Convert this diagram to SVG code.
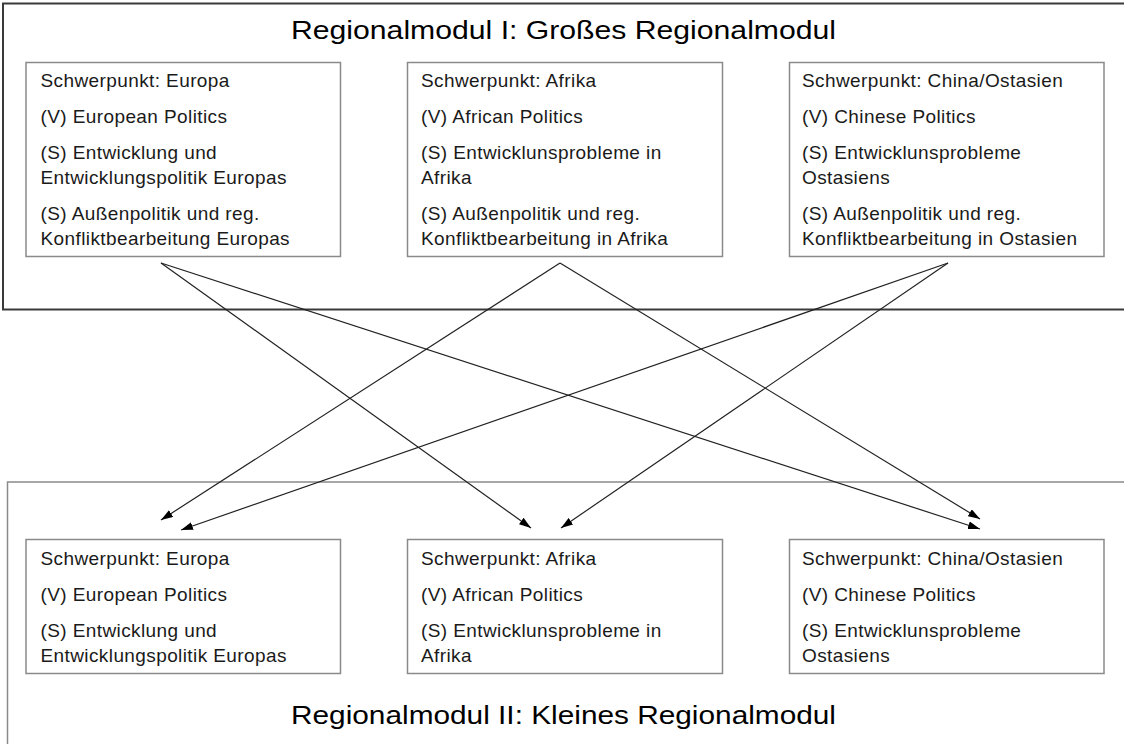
<svg xmlns="http://www.w3.org/2000/svg" width="1124" height="744" viewBox="0 0 1124 744">
<style>
.outer1{fill:none;stroke:#3a3a3a;stroke-width:2}
.outer2{fill:none;stroke:#8a8a8a;stroke-width:1.5}
.box{fill:#fff;stroke:#8a8a8a;stroke-width:1.5}
.t{font-family:"Liberation Sans",Arial,sans-serif;font-size:19px;letter-spacing:0.4px;fill:#1a1a1a}
.title{font-family:"Liberation Sans",Arial,sans-serif;font-size:25px;fill:#000}
.conn{stroke:#222;stroke-width:1.2;fill:none}
</style>
<defs>
<marker id="ah" viewBox="0 0 12 8" refX="12" refY="4" markerWidth="12" markerHeight="8" markerUnits="userSpaceOnUse" orient="auto">
<path d="M0,0 L12,4 L0,8 z" fill="#000"/>
</marker>
</defs>
<rect fill="#fff" x="0" y="0" width="1124" height="744"/>
<g id="grosses-regionalmodul">
<rect class="outer1" x="3" y="3.5" width="1140" height="306"/>
<text class="title" x="291" y="39" textLength="545" lengthAdjust="spacingAndGlyphs">Regionalmodul I: Großes Regionalmodul</text>
</g>
<g id="kleines-regionalmodul">
<rect class="outer2" x="7.5" y="482" width="1140" height="300"/>
<text class="title" x="291" y="724" textLength="545" lengthAdjust="spacingAndGlyphs">Regionalmodul II: Kleines Regionalmodul</text>
</g>
<g id="g-europa">
<rect class="box" x="26" y="62.5" width="314.5" height="194"/>
<text class="t" x="40.5" y="87">Schwerpunkt: Europa</text>
<text class="t" x="40.5" y="123">(V) European Politics</text>
<text class="t" x="40.5" y="159">(S) Entwicklung und</text>
<text class="t" x="40.5" y="184">Entwicklungspolitik Europas</text>
<text class="t" x="40.5" y="220">(S) Außenpolitik und reg.</text>
<text class="t" x="40.5" y="245">Konfliktbearbeitung Europas</text>
</g>
<g id="g-afrika">
<rect class="box" x="407.5" y="62.5" width="315" height="194"/>
<text class="t" x="421" y="87">Schwerpunkt: Afrika</text>
<text class="t" x="421" y="123">(V) African Politics</text>
<text class="t" x="421" y="159">(S) Entwicklunsprobleme in</text>
<text class="t" x="421" y="184">Afrika</text>
<text class="t" x="421" y="220">(S) Außenpolitik und reg.</text>
<text class="t" x="421" y="245">Konfliktbearbeitung in Afrika</text>
</g>
<g id="g-china">
<rect class="box" x="789.5" y="62.5" width="314.5" height="194"/>
<text class="t" x="802" y="87">Schwerpunkt: China/Ostasien</text>
<text class="t" x="802" y="123">(V) Chinese Politics</text>
<text class="t" x="802" y="159">(S) Entwicklunsprobleme</text>
<text class="t" x="802" y="184">Ostasiens</text>
<text class="t" x="802" y="220">(S) Außenpolitik und reg.</text>
<text class="t" x="802" y="245">Konfliktbearbeitung in Ostasien</text>
</g>
<g id="k-europa">
<rect class="box" x="26" y="539.5" width="314.5" height="134"/>
<text class="t" x="40.5" y="565">Schwerpunkt: Europa</text>
<text class="t" x="40.5" y="601">(V) European Politics</text>
<text class="t" x="40.5" y="637">(S) Entwicklung und</text>
<text class="t" x="40.5" y="662">Entwicklungspolitik Europas</text>
</g>
<g id="k-afrika">
<rect class="box" x="407.5" y="539.5" width="315" height="134"/>
<text class="t" x="421" y="565">Schwerpunkt: Afrika</text>
<text class="t" x="421" y="601">(V) African Politics</text>
<text class="t" x="421" y="637">(S) Entwicklunsprobleme in</text>
<text class="t" x="421" y="662">Afrika</text>
</g>
<g id="k-china">
<rect class="box" x="789.5" y="539.5" width="314.5" height="134"/>
<text class="t" x="802" y="565">Schwerpunkt: China/Ostasien</text>
<text class="t" x="802" y="601">(V) Chinese Politics</text>
<text class="t" x="802" y="637">(S) Entwicklunsprobleme</text>
<text class="t" x="802" y="662">Ostasiens</text>
</g>
<g id="connectors">
<line class="conn" x1="161" y1="263" x2="531" y2="528" marker-end="url(#ah)"/>
<line class="conn" x1="161" y1="263" x2="980" y2="529" marker-end="url(#ah)"/>
<line class="conn" x1="560" y1="263" x2="161" y2="520" marker-end="url(#ah)"/>
<line class="conn" x1="560" y1="263" x2="980" y2="519" marker-end="url(#ah)"/>
<line class="conn" x1="948" y1="263" x2="181" y2="530" marker-end="url(#ah)"/>
<line class="conn" x1="948" y1="263" x2="561" y2="528" marker-end="url(#ah)"/>
</g>
</svg>
